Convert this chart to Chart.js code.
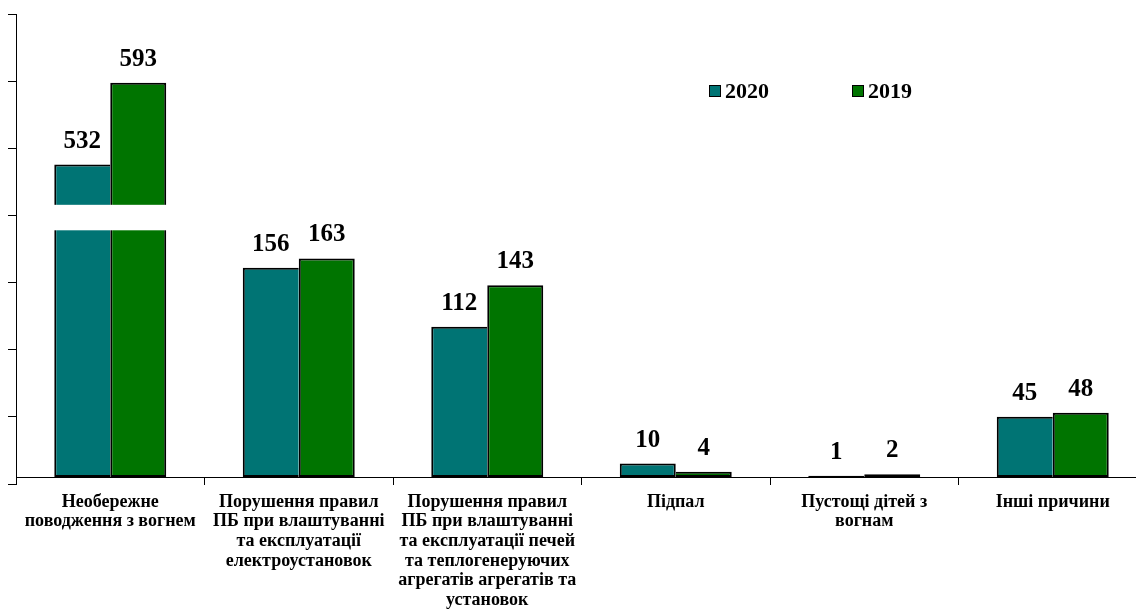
<!DOCTYPE html>
<html>
<head>
<meta charset="utf-8">
<script src="https://cdn.jsdelivr.net/npm/chart.js@4/dist/chart.umd.min.js"></script>
<style>
  html, body { margin: 0; padding: 0; background: #fff; overflow: hidden; }
  #wrap { position: relative; width: 1136px; height: 616px; overflow: hidden; }
  #c { position: absolute; left: 0; top: 0; }
  #legend { position: absolute; left: 0; top: 0; font: bold 22px "Liberation Serif", "Times New Roman", serif; color: #000; }
  .li { position: absolute; display: flex; align-items: center; white-space: nowrap; }
  .sw { width: 10px; height: 10px; border: 1.5px solid #000; margin-right: 4px; }
</style>
</head>
<body>
<div id="wrap">
  <canvas id="c" width="1150" height="616"></canvas>
  <div id="legend"></div>
</div>
<script>
// ---- data ----
const categories = [
  ["Необережне", "поводження з вогнем"],
  ["Порушення правил", "ПБ при влаштуванні", "та експлуатації", "електроустановок"],
  ["Порушення правил", "ПБ при влаштуванні", "та експлуатації печей", "та теплогенеруючих", "агрегатів агрегатів та", "установок"],
  ["Підпал"],
  ["Пустощі дітей з", "вогнам"],
  ["Інші причини"]
];
const seriesNames = ["2020", "2019"];
const values2020 = [532, 156, 112, 10, 1, 45];
const values2019 = [593, 163, 143, 4, 2, 48];
const seriesColors = ["#007474", "#007400"];

// broken value axis: values between breakFrom and breakTo are squeezed into breakSpan
const breakFrom = 184;
const breakTo = 502;
const breakSpan = 19;
const yMin = -5.2;      // compressed units
const yMax = 345.3;     // compressed units
const decoTickMax = 7;  // plain tick marks on the value axis (no labels)

function compress(v) {
  if (v <= breakFrom) return v;
  if (v >= breakTo) return v - (breakTo - breakFrom) + breakSpan;
  return breakFrom + (v - breakFrom) * breakSpan / (breakTo - breakFrom);
}
function expand(t) {
  if (t <= breakFrom) return t;
  if (t >= breakFrom + breakSpan) return t + (breakTo - breakFrom) - breakSpan;
  return breakFrom + (t - breakFrom) * (breakTo - breakFrom) / breakSpan;
}

class BrokenLinearScale extends Chart.LinearScale {
  getPixelForValue(value) {
    return super.getPixelForValue(value == null ? value : compress(value));
  }
  getValueForPixel(pixel) {
    return expand(super.getValueForPixel(pixel));
  }
}
BrokenLinearScale.id = 'brokenLinear';
BrokenLinearScale.defaults = Chart.LinearScale.defaults;
Chart.register(BrokenLinearScale);

const SERIF = '"Liberation Serif", "Times New Roman", serif';

const breakAndLabels = {
  id: 'breakAndLabels',
  afterDatasetsDraw(chart) {
    const ctx = chart.ctx;
    const y = chart.scales.y;
    // white break band across the first category's bars
    const m0 = chart.getDatasetMeta(0).data[0];
    const m1 = chart.getDatasetMeta(1).data[0];
    const yTop = y.getPixelForValue(breakTo);
    const yBot = y.getPixelForValue(breakFrom);
    ctx.save();
    ctx.fillStyle = '#fff';
    const xl = m0.x - m0.width / 2 - 2;
    const xr = m1.x + m1.width / 2 + 2;
    ctx.fillRect(xl, yTop, xr - xl, yBot - yTop);
    // value labels
    ctx.fillStyle = '#000';
    ctx.font = 'bold 25px ' + SERIF;
    ctx.textAlign = 'center';
    ctx.textBaseline = 'alphabetic';
    chart.data.datasets.forEach((ds, di) => {
      chart.getDatasetMeta(di).data.forEach((el, i) => {
        ctx.fillText(String(ds.data[i]), el.x, el.y - 17);
      });
    });
    ctx.restore();
  }
};

// the shared middle edge of a pair is drawn only by the taller bar
function pairSkip(own, other, side) {
  return own.map((v, i) => (v >= other[i] ? false : side));
}

const chart = new Chart(document.getElementById('c'), {
  type: 'bar',
  data: {
    labels: categories,
    datasets: [
      {
        label: seriesNames[0], data: values2020,
        backgroundColor: seriesColors[0], borderColor: '#000',
        borderWidth: 2, borderSkipped: pairSkip(values2020, values2019, 'right'),
        inflateAmount: 0,
        categoryPercentage: 0.594, barPercentage: 1.0
      },
      {
        label: seriesNames[1], data: values2019,
        backgroundColor: seriesColors[1], borderColor: '#000',
        borderWidth: 2, borderSkipped: pairSkip(values2019, values2020, 'left'),
        inflateAmount: 0,
        categoryPercentage: 0.594, barPercentage: 1.0
      }
    ]
  },
  options: {
    responsive: false,
    animation: false,
    events: [],
    layout: { padding: { left: 8, top: 14, right: 3, bottom: 132 } },
    plugins: { legend: { display: false }, tooltip: { enabled: false } },
    scales: {
      x: {
        type: 'category',
        position: { y: 0 },
        offset: true,
        grid: { display: true, offset: true, drawOnChartArea: false, drawTicks: true, tickLength: 7, color: '#000', lineWidth: 1 },
        border: { display: true, color: '#000', width: 1 },
        ticks: {
          autoSkip: false, maxRotation: 0, minRotation: 0, padding: 8,
          color: '#000', font: { family: SERIF, size: 18, weight: 'bold', lineHeight: 1.094 }
        }
      },
      y: {
        type: 'brokenLinear',
        position: 'left',
        display: false,
        min: yMin, max: yMax
      },
      yt: {
        type: 'linear',
        position: 'left',
        min: 0, max: decoTickMax,
        ticks: { display: false, stepSize: 1 },
        grid: { display: true, drawOnChartArea: false, drawTicks: true, tickLength: 8, color: '#000', lineWidth: 1 },
        border: { display: true, color: '#000', width: 1 }
      }
    }
  },
  plugins: [breakAndLabels]
});

// HTML legend from the chart's datasets
const legendPos = [{ left: 709, top: 78 }, { left: 852, top: 78 }];
const legendEl = document.getElementById('legend');
chart.data.datasets.forEach((ds, i) => {
  const item = document.createElement('div');
  item.className = 'li';
  item.style.left = legendPos[i].left + 'px';
  item.style.top = legendPos[i].top + 'px';
  const sw = document.createElement('span');
  sw.className = 'sw';
  sw.style.background = ds.backgroundColor;
  const tx = document.createElement('span');
  tx.textContent = ds.label;
  item.appendChild(sw);
  item.appendChild(tx);
  legendEl.appendChild(item);
});
</script>
</body>
</html>
